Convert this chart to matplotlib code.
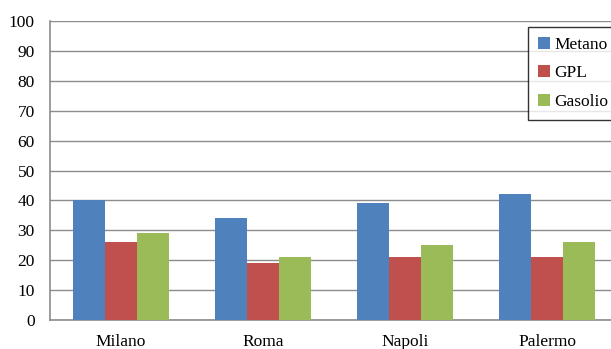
import numpy as np
import matplotlib
matplotlib.use("Agg")
import matplotlib.pyplot as plt

# data
cities = ["Milano", "Roma", "Napoli", "Palermo"]
metano = [40, 34, 39, 42]
gpl = [26, 19, 21, 21]
gasolio = [29, 21, 25, 26]
series_names = ["Metano", "GPL", "Gasolio"]
colors = ["#4F81BD", "#C0504D", "#9BBB59"]

plt.rcParams['font.family'] = ['Liberation Serif', 'DejaVu Serif']

fig = plt.figure(figsize=(6.11, 3.49), dpi=100)
# plot area runs past the right edge, like the cropped original
ax = fig.add_axes([50/611, 29/349, 568/611, 299/349])

x = np.arange(len(cities))
w = 0.224
for i, (vals, name, col) in enumerate(zip([metano, gpl, gasolio], series_names, colors)):
    ax.bar(x + (i - 1) * w, vals, width=w, color=col, label=name, zorder=3)

ax.set_xlim(-0.5, len(cities) - 0.5)
ax.set_ylim(0, 100)
ax.set_yticks(range(0, 101, 10))
ax.set_xticks(x)
ax.set_xticklabels(cities, fontsize=12.5)
ax.tick_params(axis='y', labelsize=12.5, length=0, pad=11)
ax.tick_params(axis='x', length=0, pad=10)
ax.grid(axis='y', color='#8c8c8c', linewidth=1, zorder=0)

for s in ['top', 'right']:
    ax.spines[s].set_visible(False)
for s in ['left', 'bottom']:
    ax.spines[s].set_color('#8c8c8c')
    ax.spines[s].set_linewidth(1.2)

leg = fig.legend(loc='upper left', bbox_to_anchor=(528/611, 1 - 27/349),
                 frameon=True, fancybox=False, fontsize=12.5,
                 handlelength=0.7, handleheight=0.7, handletextpad=0.25,
                 labelspacing=0.72, borderpad=0.55, borderaxespad=0)
leg.get_frame().set_edgecolor('black')
leg.get_frame().set_linewidth(1.0)

fig.savefig("out.png", dpi=100)
